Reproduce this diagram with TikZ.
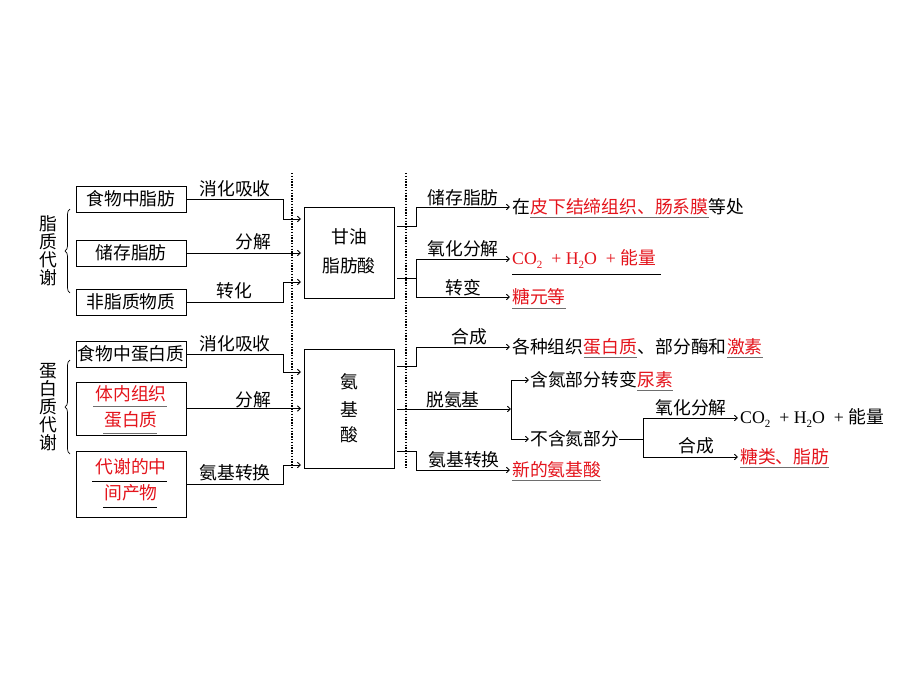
\documentclass[tikz,border=0pt]{standalone}
\usepackage{fontspec}
\setmainfont{Noto Sans CJK SC}
\newfontfamily\tnr{Liberation Serif}
\usetikzlibrary{arrows.meta,decorations.pathreplacing,calc}
\definecolor{hred}{RGB}{228,20,28}
\definecolor{ulgray}{RGB}{110,110,110}
\newcommand\subtwo{\raisebox{-4pt}{\fontsize{11}{11}\selectfont 2}}
\begin{document}
\begin{tikzpicture}[x=1pt,y=-1pt,
  every node/.style={inner sep=0pt, font=\fontsize{17.8}{18}\selectfont},
  box/.style={draw, line width=0.9pt},
  ln/.style={line width=0.9pt},
  arr/.style={ln,-{Straight Barb[length=3pt,width=5.5pt]}},
  rt/.style={text=hred},
  ul/.style={line width=0.8pt, draw=ulgray},
  uld/.style={line width=0.8pt, draw=black},
  dotl/.style={line width=1.4pt, dash pattern=on 1.4pt off 1.4pt},
  brc/.style={decorate, decoration={brace, amplitude=5pt}, line width=0.7pt},
  vlab/.style={align=center, font=\fontsize{17.8}{18}\selectfont}
]
\path[use as bounding box, fill=white] (0,0) rectangle (920,690);

% ---------- lipid part ----------
\node[vlab] (lz) at (48,251) {脂\\质\\代\\谢};
\draw[brc] (70,293) -- (70,209);

\node[box, minimum width=110pt, minimum height=26pt] (a1) at (131,199) {食物中脂肪};
\node[box, minimum width=110pt, minimum height=26pt] (a2) at (131,253) {储存脂肪};
\node[box, minimum width=110pt, minimum height=26pt] (a3) at (131,302) {非脂质物质};

\node[box, minimum width=90pt, minimum height=91pt] (g) at (349,252.5) {};
\node (g1) at (349,237) {甘油};
\node (g2) at (349,266) {脂肪酸};

\coordinate (gin1) at (301,219);
\coordinate (gin2) at (301,253);
\coordinate (gin3) at (301,282);
\draw[arr] (a1.east) -- (283,199) |- (gin1);
\draw[arr] (a2.east) -- (gin2);
\draw[arr] (a3.east) -- (283,302) |- (gin3);
\node (l1) at (235,189) {消化吸收};
\node (l2) at (253,242) {分解};
\node (l3) at (234,291) {转化};

% right side (lipid)
\node[anchor=west] (r1a) at (512,207) {在};
\node[anchor=west, rt] (r1b) at (r1a.east) {皮下结缔组织、肠系膜};
\node[anchor=west] (r1c) at (r1b.east) {等处};
\node[anchor=west, rt] (r2) at (512,259) {{\tnr CO\subtwo\ \ + H\subtwo O \ + }能量};
\node[anchor=west, rt] (r3) at (512,297) {糖元等};

\coordinate (gs1) at (397,226);
\coordinate (gs2) at (397,278);
\draw[arr, shorten >=2pt] (gs1) -- (416,226) |- (r1a.west);
\draw[arr, shorten >=2pt] (gs2) -- (416,278) |- (r2.west);
\draw[arr, shorten >=2pt] (416,278) |- (r3.west);
\node (l4) at (463,198) {储存脂肪};
\node (l5) at (463,249) {氧化分解};
\node (l6) at (463,288) {转变};

\draw[ul] ([yshift=-2pt]r1b.south west) -- ([yshift=-2pt]r1b.south east);
\draw[uld] (512,274) -- (661,274);
\draw[ul] (512,308) -- (r3.east |- 0,308);

% ---------- protein part ----------
\node[vlab] (ld) at (48,407) {蛋\\白\\质\\代\\谢};
\draw[brc] (70,454) -- (70,360);

\node[box, minimum width=110pt, minimum height=26pt] (b1) at (131,354) {食物中蛋白质};
\node[box, minimum width=110pt, minimum height=53pt] (b2) at (131,408.5) {};
\node[rt] (b2a) at (131,394) {体内组织};
\node[rt] (b2b) at (131,420) {蛋白质};
\draw[ul] (93,406) -- (167,406);
\draw[ul] (103,433) -- (157,433);
\node[box, minimum width=110pt, minimum height=66pt] (b3) at (131,484) {};
\node[rt] (b3a) at (131,467) {代谢的中};
\node[rt] (b3b) at (131,493) {间产物};
\draw[uld] (92,481) -- (167,481);
\draw[uld] (103,507) -- (157,507);

\node[box, minimum width=90pt, minimum height=119pt] (aa) at (349,408.5) {};
\node (aa1) at (349,382) {氨};
\node (aa2) at (349,409) {基};
\node (aa3) at (349,435) {酸};

\coordinate (ain1) at (301,372);
\coordinate (ain2) at (301,408.5);
\coordinate (ain3) at (301,465);
\draw[arr] (b1.east) -- (283,354) |- (ain1);
\draw[arr] (b2.east) -- (ain2);
\draw[arr] (b3.east) -- (283,484) |- (ain3);
\node (l7) at (235,344) {消化吸收};
\node (l8) at (253,400) {分解};
\node (l9) at (235,473) {氨基转换};

% right side (protein)
\node[anchor=west] (s1a) at (512,347) {各种组织};
\node[anchor=west, rt] (s1b) at (s1a.east) {蛋白质};
\node[anchor=west] (s1c) at (s1b.east) {、部分酶和};
\node[anchor=west, rt] (s1d) at (s1c.east) {激素};
\draw[ul] ([yshift=-2pt]s1b.south west) -- ([yshift=-2pt]s1b.south east);
\draw[ul] ([yshift=-2pt]s1d.south west) -- ([yshift=-2pt]s1d.south east);

\node[anchor=west] (n1a) at (530,380) {含氮部分转变};
\node[anchor=west, rt] (n1b) at (n1a.east) {尿素};
\draw[ul] ([yshift=-2pt]n1b.south west) -- ([yshift=-2pt]n1b.south east);
\node[anchor=west] (n2) at (530,439) {不含氮部分};
\node[anchor=west, rt] (nw) at (512,470) {新的氨基酸};
\draw[ul] ([yshift=-2pt]nw.south west) -- ([yshift=-2pt]nw.south east);

\node[anchor=west] (c1) at (740,418) {{\tnr CO\subtwo\ \ + H\subtwo O \ + }能量};
\node[anchor=west, rt] (c2) at (740,457) {糖类、脂肪};
\draw[ul] ([yshift=-2pt]c2.south west) -- ([yshift=-2pt]c2.south east);

\coordinate (as1) at (397,366);
\coordinate (as2) at (397,409);
\coordinate (as3) at (397,451);
\coordinate (dv) at (511,409);
\draw[arr, shorten >=2pt] (as1) -- (416,366) |- (s1a.west);
\draw[arr] (as2) -- (dv);
\draw[arr, shorten >=2pt] (as3) -- (416,451) |- (nw.west);
\draw[ln] (511,380) -- (511,439);
\draw[arr, shorten >=1pt] (511,380) -- (n1a.west);
\draw[arr, shorten >=1pt] (511,439) -- (n2.west);
\draw[ln] (n2.east) -- (643,439);
\draw[arr, shorten >=2pt] (643,439) |- (c1.west);
\draw[arr, shorten >=2pt] (643,439) |- (c2.west);

\node (l10) at (469,337) {合成};
\node (l11) at (453,400) {脱氨基};
\node (l12) at (464,460) {氨基转换};
\node (l13) at (691,408) {氧化分解};
\node (l14) at (696,446) {合成};

% dotted separators
\draw[dotl] (292,173) -- (292,469);
\draw[dotl] (406,173) -- (406,469);
\end{tikzpicture}
\end{document}
